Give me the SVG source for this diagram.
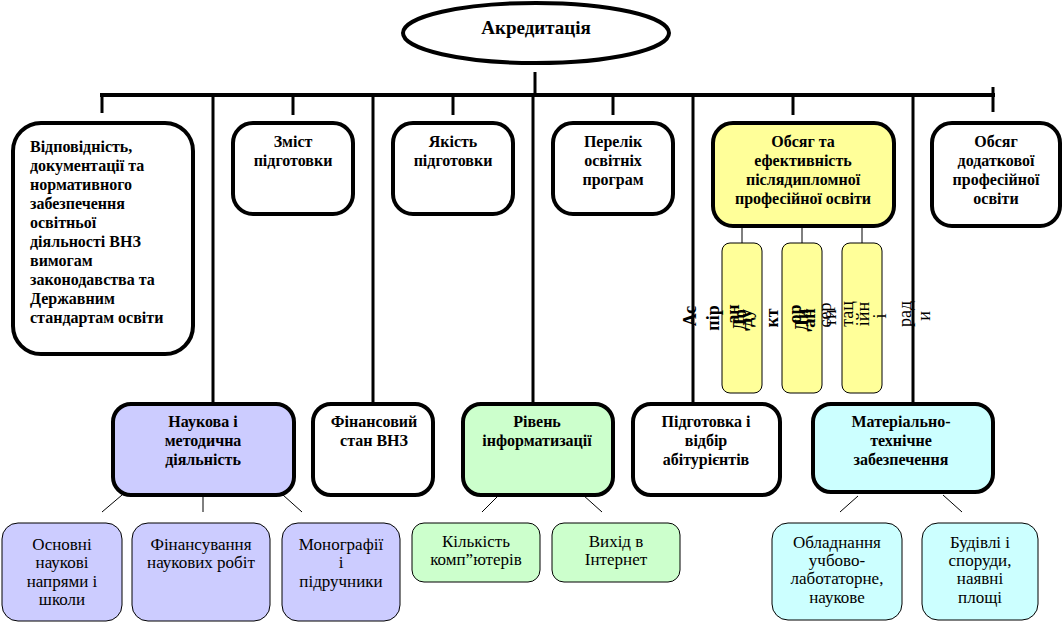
<svg xmlns="http://www.w3.org/2000/svg" width="1063" height="623" viewBox="0 0 1063 623" font-family="'Liberation Serif', 'DejaVu Serif', serif">
<style>
text{font-family:"Liberation Serif","DejaVu Serif",serif;fill:#000}
.b{font-weight:bold;font-size:16px}
.t{font-size:19px;font-weight:bold}
.r{font-size:17px}
.c{text-anchor:middle}
.thick{stroke:#000;stroke-width:4}
.thin{stroke:#000;stroke-width:1}
.bus{stroke:#000;stroke-width:4;fill:none}
.drop{stroke:#000;stroke-width:3;fill:none}
.vt{font-size:18px}
</style>
<rect width="1063" height="623" fill="#fff"/>
<g id="connectors">
<line class="drop" x1="535" y1="72" x2="535" y2="95"/>
<line class="bus" x1="100" y1="95" x2="995" y2="95"/>
<line class="drop" x1="102" y1="95" x2="102" y2="113"/>
<line class="drop" x1="213" y1="95" x2="213" y2="403"/>
<line class="drop" x1="293" y1="95" x2="293" y2="115"/>
<line class="drop" x1="373" y1="95" x2="373" y2="403"/>
<line class="drop" x1="453" y1="95" x2="453" y2="115"/>
<line class="drop" x1="533" y1="95" x2="533" y2="403"/>
<line class="drop" x1="613" y1="95" x2="613" y2="115"/>
<line class="drop" x1="693" y1="95" x2="693" y2="403"/>
<line class="drop" x1="793" y1="95" x2="793" y2="115"/>
<line class="drop" x1="913" y1="95" x2="913" y2="403"/>
<line class="drop" x1="993" y1="87" x2="993" y2="112"/>
<line class="thin" x1="742" y1="227" x2="742" y2="243"/>
<line class="thin" x1="802" y1="227" x2="802" y2="243"/>
<line class="thin" x1="862" y1="227" x2="862" y2="243"/>
<line class="thin" x1="122" y1="495" x2="102" y2="512"/>
<line class="thin" x1="203" y1="497" x2="203" y2="512"/>
<line class="thin" x1="283" y1="495" x2="302" y2="512"/>
<line class="thin" x1="498" y1="496" x2="482" y2="512"/>
<line class="thin" x1="583" y1="495" x2="602" y2="512"/>
<line class="thin" x1="858" y1="496" x2="840" y2="512"/>
<line class="thin" x1="943" y1="495" x2="962" y2="512"/>
</g>
<g id="root">
<ellipse cx="536" cy="33" rx="133" ry="30" fill="#fff" class="thick"/>
<text class="t c" x="536" y="34">Акредитація</text>
</g>
<g id="n1">
<rect x="13" y="123" width="180" height="231" rx="28" fill="#fff" class="thick"/>
<text class="b"><tspan x="30" y="152">Відповідність,</tspan><tspan x="30" y="171">документації та</tspan><tspan x="30" y="190">нормативного</tspan><tspan x="30" y="209">забезпечення</tspan><tspan x="30" y="228">освітньої</tspan><tspan x="30" y="247">діяльності ВНЗ</tspan><tspan x="30" y="266">вимогам</tspan><tspan x="30" y="285">законодавства та</tspan><tspan x="30" y="304">Державним</tspan><tspan x="30" y="323">стандартам освіти</tspan></text>
</g>
<g id="n2">
<rect x="233" y="123" width="120" height="91" rx="20" fill="#fff" class="thick"/>
<text class="b c"><tspan x="293" y="147">Зміст</tspan><tspan x="293" y="166">підготовки</tspan></text>
</g>
<g id="n3">
<rect x="393" y="123" width="120" height="91" rx="20" fill="#fff" class="thick"/>
<text class="b c"><tspan x="453" y="147">Якість</tspan><tspan x="453" y="166">підготовки</tspan></text>
</g>
<g id="n4">
<rect x="553" y="123" width="120" height="91" rx="20" fill="#fff" class="thick"/>
<text class="b c"><tspan x="613" y="147">Перелік</tspan><tspan x="613" y="166">освітніх</tspan><tspan x="613" y="185">програм</tspan></text>
</g>
<g id="n5">
<rect x="713" y="123" width="181" height="103" rx="20" fill="#ffff99" class="thick"/>
<text class="b c"><tspan x="803" y="147">Обсяг та</tspan><tspan x="803" y="166">ефективність</tspan><tspan x="803" y="185">післядипломної</tspan><tspan x="803" y="204">професійної освіти</tspan></text>
</g>
<g id="n6">
<rect x="932" y="123" width="128" height="103" rx="20" fill="#fff" class="thick"/>
<text class="b c"><tspan x="996" y="147">Обсяг</tspan><tspan x="996" y="166">додаткової</tspan><tspan x="996" y="185">професійної</tspan><tspan x="996" y="204">освіти</tspan></text>
</g>
<g id="col1"><rect x="722" y="243" width="40" height="150" rx="8" fill="#ffff99" class="thin"/></g>
<g id="col2"><rect x="782" y="243" width="40" height="150" rx="8" fill="#ffff99" class="thin"/></g>
<g id="col3"><rect x="842" y="243" width="40" height="150" rx="8" fill="#ffff99" class="thin"/></g>
<g id="vtexts">
<text class="vt c" font-weight="bold" transform="translate(696,316) rotate(-90)">Ас</text>
<text class="vt c" font-weight="bold" transform="translate(719,318) rotate(-90)">пір</text>
<text class="vt c" font-weight="bold" transform="translate(739,314) rotate(-90)">ан</text>
<text class="vt c" font-weight="bold" transform="translate(746,320) rotate(-90)">До</text>
<text class="vt c" font-weight="bold" transform="translate(752,318) rotate(-90)">ду</text>
<text class="vt c" font-weight="bold" transform="translate(778,318) rotate(-90)">кт</text>
<text class="vt c" font-weight="bold" transform="translate(801,314) rotate(-90)">ор</text>
<text class="vt c" font-weight="bold" transform="translate(808,320) rotate(-90)">Ди</text>
<text class="vt c" font-weight="bold" transform="translate(815,318) rotate(-90)">ан</text>
<text class="vt c" transform="translate(831,315) rotate(-90)">сер</text>
<text class="vt c" transform="translate(836,318) rotate(-90)">ти</text>
<text class="vt c" transform="translate(853,314) rotate(-90)">тац</text>
<text class="vt c" transform="translate(869,314) rotate(-90)">ійн</text>
<text class="vt c" transform="translate(886,316) rotate(-90)">і</text>
<text class="vt c" transform="translate(911,314) rotate(-90)">рад</text>
<text class="vt c" transform="translate(930,316) rotate(-90)">и</text>
</g>
<g id="m1">
<rect x="113" y="404" width="181" height="91" rx="18" fill="#ccccff" class="thick"/>
<text class="b c"><tspan x="203" y="427">Наукова і</tspan><tspan x="203" y="446">методична</tspan><tspan x="203" y="465">діяльність</tspan></text>
</g>
<g id="m2">
<rect x="313" y="404" width="120" height="91" rx="18" fill="#fff" class="thick"/>
<text class="b c"><tspan x="374" y="427">Фінансовий</tspan><tspan x="374" y="446">стан ВНЗ</tspan></text>
</g>
<g id="m3">
<rect x="463" y="404" width="150" height="91" rx="18" fill="#ccffcc" class="thick"/>
<text class="b c"><tspan x="537" y="427">Рівень</tspan><tspan x="537" y="446">інформатизації</tspan></text>
</g>
<g id="m4">
<rect x="633" y="404" width="147" height="91" rx="18" fill="#fff" class="thick"/>
<text class="b c"><tspan x="706" y="427">Підготовка і</tspan><tspan x="706" y="446">відбір</tspan><tspan x="706" y="465">абітурієнтів</tspan></text>
</g>
<g id="m5">
<rect x="813" y="404" width="180" height="88" rx="18" fill="#ccffff" class="thick"/>
<text class="b c"><tspan x="901" y="427">Матеріально-</tspan><tspan x="901" y="446">технічне</tspan><tspan x="901" y="465">забезпечення</tspan></text>
</g>
<g id="l1">
<rect x="2" y="523" width="120" height="98" rx="16" fill="#ccccff" class="thin"/>
<text class="r c"><tspan x="62" y="550">Основні</tspan><tspan x="62" y="568">наукові</tspan><tspan x="62" y="587">напрями і</tspan><tspan x="62" y="605">школи</tspan></text>
</g>
<g id="l2">
<rect x="132" y="523" width="138" height="98" rx="16" fill="#ccccff" class="thin"/>
<text class="r c"><tspan x="201" y="550">Фінансування</tspan><tspan x="201" y="568">наукових робіт</tspan></text>
</g>
<g id="l3">
<rect x="282" y="523" width="118" height="98" rx="16" fill="#ccccff" class="thin"/>
<text class="r c"><tspan x="341" y="550">Монографії</tspan><tspan x="341" y="568">і</tspan><tspan x="341" y="587">підручники</tspan></text>
</g>
<g id="l4">
<rect x="412" y="523" width="128" height="59" rx="12" fill="#ccffcc" class="thin"/>
<text class="r c"><tspan x="476" y="547">Кількість</tspan><tspan x="476" y="565">комп”ютерів</tspan></text>
</g>
<g id="l5">
<rect x="552" y="523" width="128" height="59" rx="12" fill="#ccffcc" class="thin"/>
<text class="r c"><tspan x="616" y="547">Вихід в</tspan><tspan x="616" y="565">Інтернет</tspan></text>
</g>
<g id="l6">
<rect x="772" y="523" width="130" height="97" rx="16" fill="#ccffff" class="thin"/>
<text class="r c"><tspan x="837" y="548">Обладнання</tspan><tspan x="837" y="566">учбово-</tspan><tspan x="837" y="584">лаботаторне,</tspan><tspan x="837" y="603">наукове</tspan></text>
</g>
<g id="l7">
<rect x="922" y="523" width="116" height="97" rx="16" fill="#ccffff" class="thin"/>
<text class="r c"><tspan x="980" y="548">Будівлі і</tspan><tspan x="980" y="566">споруди,</tspan><tspan x="980" y="584">наявні</tspan><tspan x="980" y="603">площі</tspan></text>
</g>
</svg>
